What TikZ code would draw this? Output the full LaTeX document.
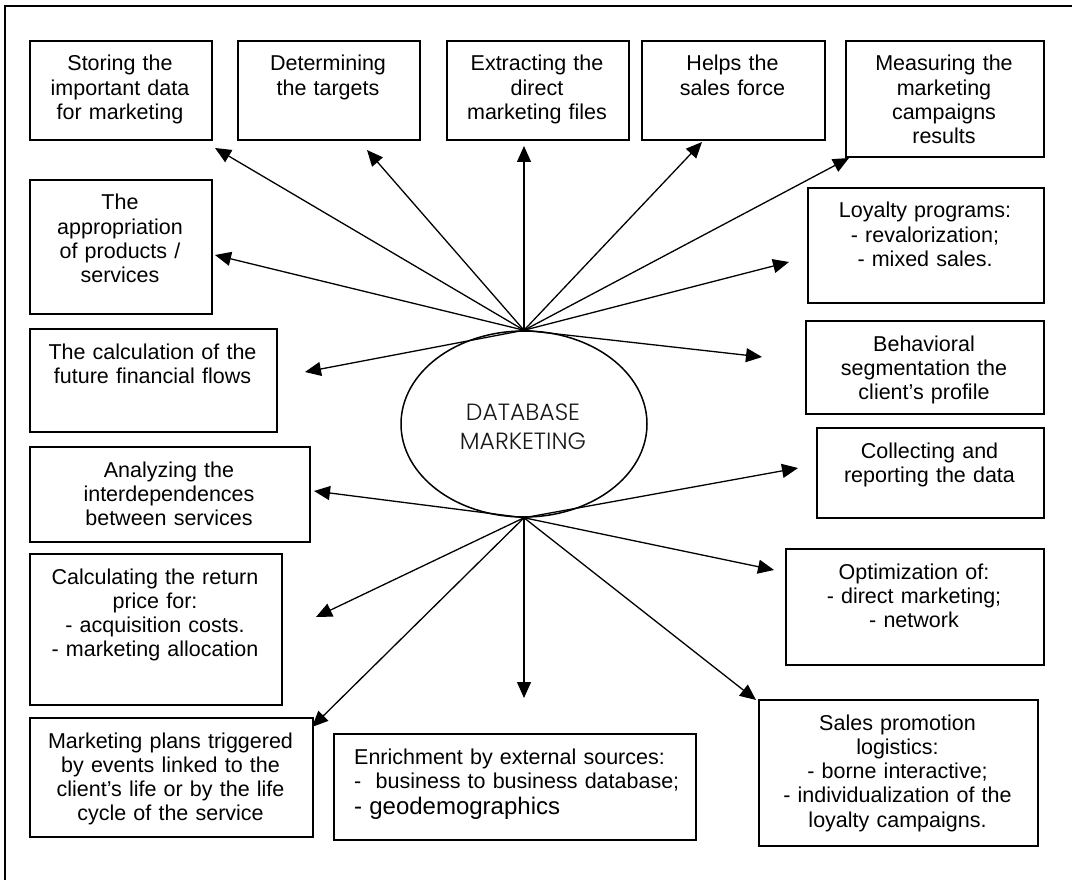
\documentclass[tikz,border=0pt]{standalone}
\usepackage{fontspec}
\setmainfont{Liberation Sans}
\newfontfamily\dbfont{Poppins Light}
\usetikzlibrary{arrows.meta,shapes.geometric}
\tikzset{
  boxst/.style={draw, line width=1.6pt, inner sep=0pt, rectangle},
  txtst/.style={inner sep=0pt, text width=320pt, align=center, font=\fontsize{21.5}{24.3}\selectfont},
  arr/.style={line width=1.3pt, -{Triangle[length=16pt,width=14pt]}},
  frm/.style={line width=1.6pt},
  ell/.style={draw, ellipse, line width=1.5pt, inner sep=0pt, minimum width=246pt, minimum height=186pt},
  dbtxt/.style={inner sep=0pt, text width=300pt, align=center, font=\dbfont\fontsize{23.5}{29}\selectfont, text=black!90}
}
\newcommand\mybox[6]{%
  \node[boxst, minimum width=#4-#2, minimum height=#5-#3, anchor=north west] (#1) at (#2,#3) {};
  \node[txtst, anchor=base] (#1t) at ({(#2+#4)/2},{#3+31}) {#6};
}
\begin{document}
\begin{tikzpicture}[x=1pt,y=-1pt]
\useasboundingbox (0,0) rectangle (1072,880);
\fill[white] (0,0) rectangle (1072,880);
\draw[frm] (5,890) -- (5,6) -- (1080,6);

\mybox{store}{29}{40}{211}{139}{Storing the\\important data\\for marketing}
\mybox{targ}{237}{40}{419}{139}{Determining\\the targets}
\mybox{extr}{446}{40}{628}{139}{Extracting the\\direct\\marketing files}
\mybox{help}{641}{40}{824}{139}{Helps the\\sales force}
\mybox{meas}{845}{40}{1043}{156}{Measuring the\\marketing\\campaigns\\results}
\mybox{appr}{29}{179}{211}{313}{The\\appropriation\\of products /\\services}
\mybox{loy}{807}{187}{1043}{302}{Loyalty programs:\\- revalorization;\\- mixed sales.}
\mybox{fin}{29}{328}{276}{431}{The calculation of the\\future financial flows}
\mybox{beh}{805}{320}{1043}{413}{Behavioral\\segmentation the\\client’s profile}
\mybox{ana}{29}{446}{309}{541}{Analyzing the\\interdependences\\between services}
\mybox{coll}{816}{427}{1043}{517}{Collecting and\\reporting the data}
\mybox{ret}{29}{553}{281}{704}{Calculating the return\\price for:\\- acquisition costs.\\- marketing allocation}
\mybox{opt}{785}{548}{1043}{664}{Optimization of:\\- direct marketing;\\- network}
\mybox{plan}{29}{717}{312}{836}{Marketing plans triggered\\by events linked to the\\client’s life or by the life\\cycle of the service}
\mybox{sales}{758}{699}{1037}{845}{Sales promotion\\logistics:\\- borne interactive;\\- individualization of the\\loyalty campaigns.}

\node[boxst, minimum width=362, minimum height=106, anchor=north west] (enr) at (333,733) {};
\node[txtst, align=left, text width=330pt, anchor=base west] (enrt) at (354,764)
  {Enrichment by external sources:\\-\ \ business to business database;\\[1.5pt]{\fontsize{24}{24.3}\selectfont - geodemographics}};

\node[ell] (db) at (524,424) {};
\node[dbtxt, anchor=base] (dbt) at (523,420) {DATABASE\\MARKETING};

% arrow tips
\coordinate (store-a) at (215,148);
\coordinate (targ-a) at (367,150);
\coordinate (extr-a) at (524,146);
\coordinate (help-a) at (702,142);
\coordinate (meas-a) at (849,158);
\coordinate (appr-a) at (215,255);
\coordinate (loy-a) at (789,262);
\coordinate (fin-a) at (305,372);
\coordinate (beh-a) at (762,357);
\coordinate (ana-a) at (314,491);
\coordinate (coll-a) at (798,468);
\coordinate (ret-a) at (316,617);
\coordinate (opt-a) at (774,570);
\coordinate (plan-a) at (312,727);
\coordinate (enr-a) at (524,698);
\coordinate (sales-a) at (756,700);

\foreach \t in {store,targ,extr,help,meas,appr,loy,fin,beh}
  \draw[arr] (db.north) -- (\t-a);
\foreach \t in {ana,coll,ret,opt,plan,enr,sales}
  \draw[arr] (db.south) -- (\t-a);
\end{tikzpicture}
\end{document}
